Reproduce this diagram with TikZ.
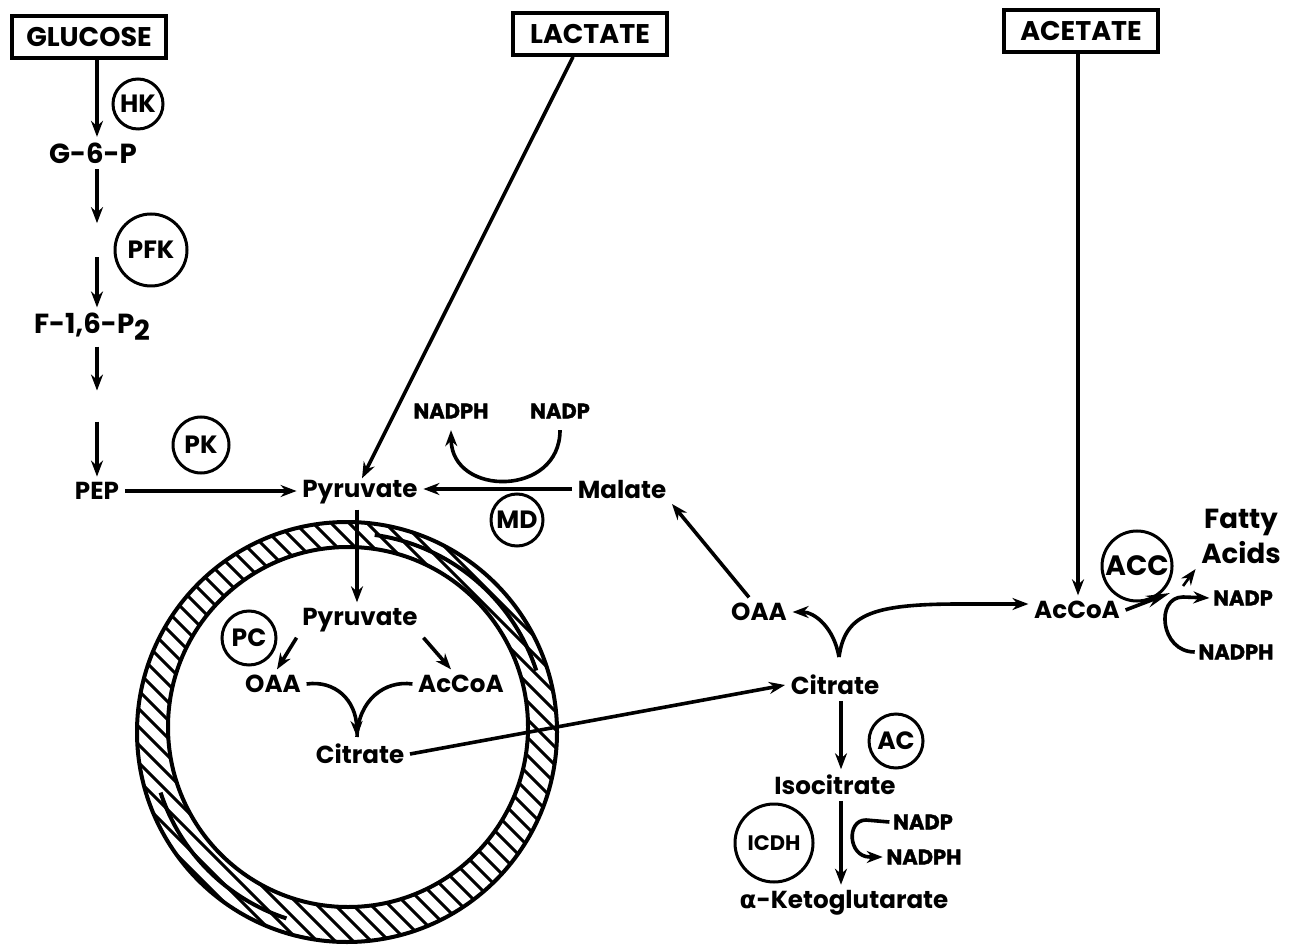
\documentclass[tikz,border=0pt]{standalone}
\usepackage{fontspec}
\setmainfont{Poppins}
\newfontfamily\cofont{Poppins}[FakeBold=1.5]
\newfontfamily\grkfont{DejaVu Sans}
\usetikzlibrary{arrows.meta,calc}
\begin{document}
\begin{tikzpicture}[x=0.5pt,y=-0.5pt,line width=1.8pt,
 arr/.style={-{Stealth[length=8pt,width=6pt]}},
 met/.style={font=\bfseries\fontsize{12.3}{15}\selectfont,inner sep=2pt},
 bigmet/.style={font=\bfseries\fontsize{13.8}{17}\selectfont,inner sep=2pt},
 cof/.style={font=\cofont\bfseries\fontsize{10.5}{12}\selectfont,inner sep=1pt},
 enz/.style={draw,circle,line width=1.5pt,inner sep=0pt,font=\bfseries\fontsize{12.5}{15}\selectfont},
 srcbox/.style={draw,line width=1.8pt,font=\bfseries\fontsize{13.5}{17}\selectfont,inner sep=0pt,minimum width=77pt,minimum height=21pt},
 ring/.style={line width=2pt},
 hatch/.style={line width=1.5pt}]
\useasboundingbox (0,0) rectangle (1293,945);

% mitochondrion
\begin{scope}[even odd rule]
\clip (347,732) circle[radius=210] (348,727) circle[radius=180];
\foreach \c in {-840,-822,...,60} \draw[hatch] (\c+480,480) -- (\c+960,960);
\end{scope}
\draw[ring] (347,732) circle[radius=210];
\draw[ring] (348,727) circle[radius=180];
\draw[ring] (347,732) ++(-82:199) arc[start angle=-82, end angle=-18, radius=199];
\draw[ring] (347,732) ++(162:196) arc[start angle=162, end angle=108, radius=196];

% column coordinates
\coordinate (colx) at (97,0);
\coordinate (lacx) at (573,0);
\coordinate (acex) at (1078,0);
\coordinate (isox) at (841,0);

% sources
\node[srcbox] (glu) at (89,37) {GLUCOSE};
\node[srcbox] (lac) at (590,34) {LACTATE};
\node[srcbox] (ace) at (1081,31) {ACETATE};

% metabolites
\node[bigmet] (g6p) at (93,153) {G-6-P};
\node[bigmet] (f16) at (92,327) {F-1,6-P\raisebox{-0.45ex}{2}};
\node[met] (pep) at (97,491) {PEP};
\node[met] (pyr) at (360,492) {Pyruvate};
\node[met] (mal) at (622,489) {Malate};
\node[cof] (nadph1) at (451,411) {NADPH};
\node[cof] (nadp1) at (560,411) {NADP};
\node[met] (oaac) at (759,612) {OAA};
\node[met] (citc) at (835,685) {Citrate};
\node[met] (iso) at (835,785) {Isocitrate};
\node[met] (akg) at (844,903) {{\grkfont\bfseries α}-Ketoglutarate};
\node[met] (accc) at (1077,610) {AcCoA};
\node[met,align=center,font=\bfseries\fontsize{13.8}{17.5}\selectfont] (fatty) at (1241,536) {Fatty\\Acids};
\node[cof] (nadp3) at (1243,598) {NADP};
\node[cof] (nadph3) at (1236,652) {NADPH};
\node[cof] (nadp2) at (923,822) {NADP};
\node[cof] (nadph2) at (924,857) {NADPH};

% mitochondrial metabolites
\node[met] (pyrm) at (360,620) {Pyruvate};
\node[met] (oaam) at (273,684) {OAA};
\node[met] (accm) at (461,684) {AcCoA};
\node[met] (citm) at (360,754) {Citrate};

% enzymes
\node[enz,minimum size=25pt] (hk) at (138,104) {HK};
\node[enz,minimum size=36pt] (pfk) at (151,250) {PFK};
\node[enz,minimum size=28pt] (pk) at (201,445) {PK};
\node[enz,minimum size=26pt] (md) at (517,520) {MD};
\node[enz,minimum size=27pt] (pc) at (249,638) {PC};
\node[enz,minimum size=27pt] (ac) at (896,741) {AC};
\node[enz,minimum size=39pt,font=\bfseries\fontsize{10.5}{13}\selectfont] (icdh) at (774,843) {ICDH};
\node[enz,minimum size=35pt,font=\bfseries\fontsize{14}{17}\selectfont] (acc) at (1137,566) {ACC};

% glycolysis
\draw[arr] (glu.south -| colx) -- (g6p.north -| colx);
\draw[arr] (g6p.south -| colx) -- ++(0,54);
\draw[arr] ($(f16.north -| colx)+(0,-50)$) -- (f16.north -| colx);
\draw[arr] (f16.south -| colx) -- ++(0,44);
\draw[arr] ($(pep.north -| colx)+(0,-55)$) -- (pep.north -| colx);
\draw[arr] (pep.east) -- (pyr.west |- pep.east);

% lactate, malate
\draw[arr] (lac.south -| lacx) -- ([xshift=1pt,yshift=-2pt]pyr.north);
\draw[arr] (mal.west) -- (pyr.east |- mal.west);
\draw[arr] ([yshift=-4pt]nadp1.south) .. controls (560,497) and (452,497) .. ([yshift=-4pt]nadph1.south);
\draw[arr] ([xshift=-5pt]oaac.north) -- (mal.south east);

% cytosolic citrate split
\coordinate (split) at (839,657);
\coordinate (accin) at (960,604);
\draw[arr] (split) .. controls (834,628) and (815,612) .. (oaac.east);
\draw (split) .. controls (845,615) and (870,604) .. (accin);
\draw[arr] (accin) -- (accc.west |- accin);

% mitochondrion internal
\draw[arr] ([xshift=-1.5pt]pyr.south) -- ([xshift=-1.5pt]pyrm.north);
\draw[arr] (pyrm.south west) -- ([xshift=2pt]oaam.north);
\draw[arr] (pyrm.south east) -- ([xshift=-5pt]accm.north);
\coordinate (mtip) at (357,737);
\draw[arr] (oaam.east) .. controls (335,680) and (356,700) .. (mtip);
\draw (accm.west) .. controls (385,680) and (358,700) .. (mtip);
\draw[arr] (citm.east) -- (citc.west);

% citrate -> isocitrate -> alpha-KG
\draw[arr] (citc.south -| isox) -- (iso.north -| isox);
\draw[arr] (iso.south -| isox) -- (akg.north -| isox);
\draw[arr] (nadp2.west) -- (866,820) .. controls (846,820) and (848,857) .. (870,857) -- (nadph2.west);

% acetate
\draw[arr] (ace.south -| acex) -- (accc.north -| acex);
\coordinate (accend) at (1170,593);
\draw[-{Stealth[length=12pt,width=6pt]}] (accc.east) -- (accend);
\coordinate (fastart) at (1183,586);
\draw[arr,line width=1.3pt] (fastart) -- (fatty.south west);
\draw[arr] (nadph3.west) .. controls (1160,652) and (1155,597) .. (1183,597) -- (nadp3.west);
\end{tikzpicture}
\end{document}
